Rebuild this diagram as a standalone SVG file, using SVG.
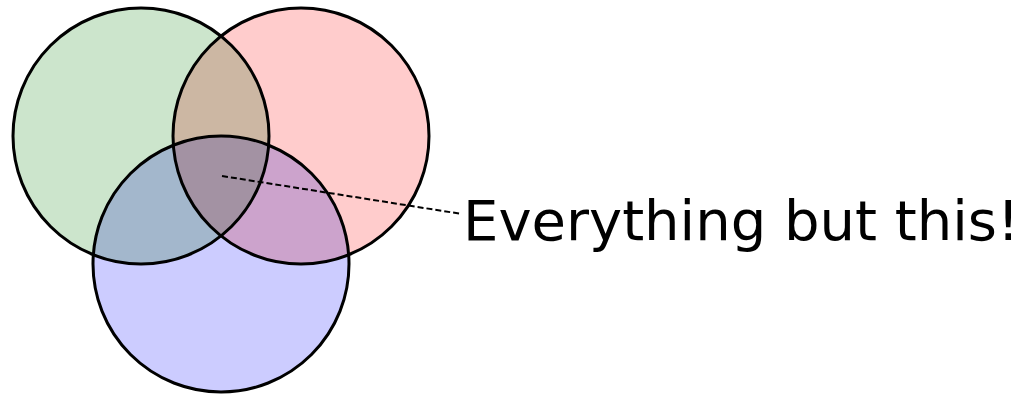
<svg xmlns="http://www.w3.org/2000/svg" width="1023" height="394" viewBox="0 0 1023 394">
<style>
.c{stroke:#000;stroke-width:3;mix-blend-mode:multiply}
.lbl{font-family:"DejaVu Sans",sans-serif;font-size:56px;fill:#000}
</style>
<rect width="1023" height="394" fill="#fff"/>
<g id="green"><circle class="c" cx="141" cy="136" r="128" fill="#cce5cc"/></g>
<g id="red"><circle class="c" cx="301" cy="136" r="128" fill="#ffcccc"/></g>
<g id="blue"><circle class="c" cx="221" cy="264" r="128" fill="#ccccff"/></g>
<g id="connectors"><line x1="222" y1="176" x2="462" y2="214" stroke="#000" stroke-width="2" stroke-dasharray="6,3"/></g>
<g id="label"><text class="lbl" x="463" y="240">Everything but this!</text></g>
</svg>
